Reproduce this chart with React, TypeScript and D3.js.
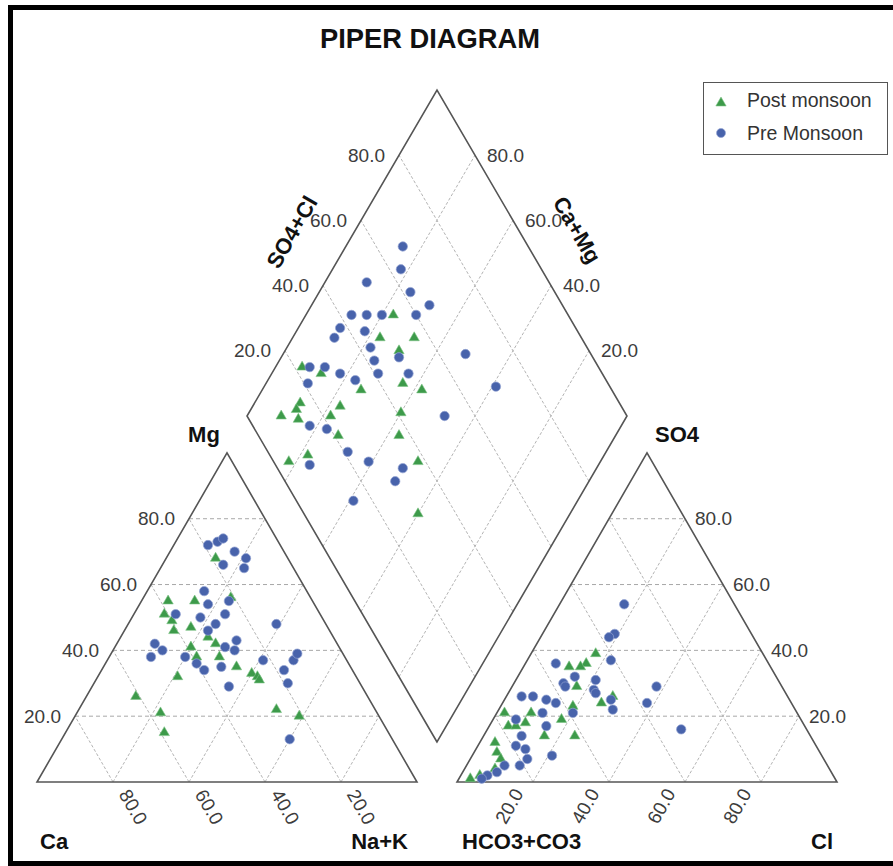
import React from "react";
import * as d3 from "d3";

// tick values shared by every axis
const tickValues = [20, 40, 60, 80];
const tickLabels = ["20.0", "40.0", "60.0", "80.0"];

// cation triangle: [Mg %, Na+K %]
const postCations = [
  [68, 13], [55, 7], [55, 14], [51, 8], [49, 11], [46, 13], [47, 17], [41, 20], [44, 23], [42, 26],
  [38, 29], [38, 23], [35, 35], [33, 40], [32, 42], [31, 43], [32, 21], [26, 13], [21, 22], [15, 26],
  [22, 52], [20, 59], [56, 23],
];
const preCations = [
  [72, 9], [73, 11], [74, 12], [70, 17], [68, 21], [65, 22], [66, 16], [58, 15], [54, 18], [55, 23],
  [51, 11], [50, 18], [48, 23], [51, 24], [46, 22], [42, 10], [40, 13], [38, 11], [38, 20], [36, 24],
  [34, 27], [35, 31], [29, 36], [41, 29], [40, 32], [43, 31], [48, 39], [37, 41], [34, 48], [30, 51],
  [37, 49], [39, 49], [13, 60],
];

// anion triangle: [SO4 %, Cl %]
const postAnions = [
  [39, 17], [36, 16], [35, 15], [35, 12], [29, 17], [24, 26], [26, 28], [19, 18], [23, 19], [14, 24],
  [21, 2], [17, 5], [21, 9], [18, 9], [12, 4], [9, 6], [7, 8], [4, 8], [1, 3], [2, 5], [17, 7], [14, 16],
];
const preAnions = [
  [54, 17], [45, 19], [44, 18], [37, 22], [36, 8], [32, 15], [30, 13], [29, 14], [31, 21], [28, 22],
  [27, 23], [25, 28], [22, 30], [29, 38], [24, 38], [16, 51], [26, 4], [26, 7], [25, 11], [24, 14],
  [21, 12], [21, 20], [19, 6], [17, 15], [14, 10], [11, 10], [10, 13], [7, 15], [5, 14], [5, 10],
  [8, 21], [2, 7], [1, 6], [3, 9],
];

// diamond: [SO4+Cl %, Ca+Mg %]
const postDiamond = [
  [54, 77], [47, 77], [56, 68], [50, 70], [46, 64], [34, 74], [50, 58], [22, 93], [26, 87], [16, 88],
  [14, 88], [13, 86], [9, 91], [22, 78], [26, 77], [21, 73], [41, 60], [37, 57], [38, 48], [4, 82],
  [10, 78], [30, 40],
];
const preDiamond = [
  [67, 85], [63, 82], [52, 89], [62, 76], [65, 69], [60, 71], [51, 80], [47, 84], [43, 88], [38, 89],
  [35, 89], [44, 82], [43, 78], [49, 69], [42, 75], [41, 72], [49, 64], [67, 52], [70, 39], [24, 91],
  [28, 87], [21, 89], [31, 82], [34, 77], [52, 48], [15, 82], [19, 77], [21, 68], [25, 61], [33, 51],
  [29, 51], [9, 76], [15, 59],
];

const W = 893;
const HGT = 866;
const SIDE = 380;
const TH = (SIDE * Math.sqrt(3)) / 2;
const BASE = 782;
const LEFT_X = 37;
const RIGHT_X = 457;
const D_BX = 437, D_BY = 742, D_HW = 190, D_HH = 326;

const FONT = "Arial, 'Liberation Sans', sans-serif";
const GREEN = "#3d9a4a";
const BLUE = "#4863ab";
const EDGE = "#555";
const GRID = "#b4b4b4";
const TICK_COLOR = "#3c3c3c";

const yTri = d3.scaleLinear().domain([0, 100]).range([BASE, BASE - TH]);
const xCat = d3.scaleLinear().domain([0, 100]).range([LEFT_X, LEFT_X + SIDE]);
const xAn = d3.scaleLinear().domain([0, 100]).range([RIGHT_X, RIGHT_X + SIDE]);
const xDia = d3.scaleLinear().domain([-100, 100]).range([D_BX - D_HW, D_BX + D_HW]);
const yDia = d3.scaleLinear().domain([0, 200]).range([D_BY, D_BY - 2 * D_HH]);

const cat = (mg: number, nak: number) => [xCat(nak + mg / 2), yTri(mg)];
const an = (so4: number, cl: number) => [xAn(cl + so4 / 2), yTri(so4)];
const dia = (a: number, b: number) => [xDia(a - b), yDia(a + b)];

const triPath = d3.symbol(d3.symbolTriangle, 46);

const line = (p: number[], q: number[], key: string, dash = "3,2", color = GRID) => (
  <line key={key} x1={p[0]} y1={p[1]} x2={q[0]} y2={q[1]} stroke={color} strokeWidth={1} strokeDasharray={dash} />
);

const poly = (pts: number[][]) => pts.map((p) => p.join(",")).join(" ");

function Markers({ post, pre, proj }: { post: number[][]; pre: number[][]; proj: (a: number, b: number) => number[] }) {
  return (
    <g>
      {post.map((d, i) => {
        const [x, y] = proj(d[0], d[1]);
        return <path key={"g" + i} d={triPath() as string} transform={`translate(${x},${y})`} fill={GREEN} stroke="#7cc285" strokeWidth={0.6} />;
      })}
      {pre.map((d, i) => {
        const [x, y] = proj(d[0], d[1]);
        return <circle key={"b" + i} cx={x} cy={y} r={4.7} fill={BLUE} stroke="#93a3d3" strokeWidth={0.7} />;
      })}
    </g>
  );
}

export default function App() {
  const tickText = { fontFamily: FONT, fontSize: 19, fill: TICK_COLOR } as const;
  const axisText = { fontFamily: FONT, fontSize: 22, fontWeight: "bold", fill: "#111" } as const;

  return (
    <div style={{ position: "absolute", left: 0, top: 0 }}>
      <svg width={W} height={HGT} style={{ display: "block", background: "#fff" }}>
        {/* frame */}
        <rect x={10.5} y={7.5} width={900} height={856} fill="none" stroke="#000" strokeWidth={5} />

        <text x={430} y={48} textAnchor="middle" textLength={220} lengthAdjust="spacingAndGlyphs"
          style={{ fontFamily: FONT, fontSize: 28, fontWeight: "bold", fill: "#111" }}>PIPER DIAGRAM</text>

        {/* cation triangle grid */}
        <g>
          {tickValues.map((v) => line(cat(v, 0), cat(v, 100 - v), "ch" + v, "4,3", "#a8a8a8"))}
          {tickValues.map((v) => line(cat(0, v), cat(100 - v, v), "cn" + v))}
          {tickValues.map((v) => line(cat(0, 100 - v), cat(100 - v, 0), "cc" + v))}
          <polygon points={poly([cat(0, 0), cat(0, 100), cat(100, 0)])} fill="none" stroke={EDGE} strokeWidth={1.6} />
        </g>

        {/* anion triangle grid */}
        <g>
          {tickValues.map((v) => line(an(v, 0), an(v, 100 - v), "ah" + v, "4,3", "#a8a8a8"))}
          {tickValues.map((v) => line(an(0, v), an(100 - v, v), "ac" + v))}
          {tickValues.map((v) => line(an(0, 100 - v), an(100 - v, 0), "ab" + v))}
          <polygon points={poly([an(0, 0), an(0, 100), an(100, 0)])} fill="none" stroke={EDGE} strokeWidth={1.6} />
        </g>

        {/* diamond grid */}
        <g>
          {tickValues.map((v) => line(dia(v, 0), dia(v, 100), "da" + v))}
          {tickValues.map((v) => line(dia(0, v), dia(100, v), "db" + v))}
          <polygon points={poly([dia(0, 0), dia(0, 100), dia(100, 100), dia(100, 0)])} fill="none" stroke={EDGE} strokeWidth={1.6} />
        </g>

        {/* tick labels */}
        <g style={tickText}>
          {tickValues.map((v, i) => {
            const [x, y] = cat(v, 0);
            return <text key={"tm" + v} x={x - 14} y={y} textAnchor="end" dominantBaseline="central">{tickLabels[i]}</text>;
          })}
          {tickValues.map((v, i) => {
            const [x, y] = cat(0, 100 - v);
            return <text key={"tca" + v} transform={`translate(${x + 11},${y + 9}) rotate(60)`} dominantBaseline="central">{tickLabels[i]}</text>;
          })}
          {tickValues.map((v, i) => {
            const [x, y] = an(v, 100 - v);
            return <text key={"ts" + v} x={x + 10} y={y} dominantBaseline="central">{tickLabels[i]}</text>;
          })}
          {tickValues.map((v, i) => {
            const [x, y] = an(0, v);
            return <text key={"tcl" + v} transform={`translate(${x - 14.5},${y + 8}) rotate(-60)`} textAnchor="end" dominantBaseline="central">{tickLabels[i]}</text>;
          })}
          {tickValues.map((v, i) => {
            const [x, y] = dia(v, 100);
            return <text key={"tsc" + v} x={x - 14} y={y} textAnchor="end" dominantBaseline="central">{tickLabels[i]}</text>;
          })}
          {tickValues.map((v, i) => {
            const [x, y] = dia(100, v);
            return <text key={"tcm" + v} x={x + 12} y={y} dominantBaseline="central">{tickLabels[i]}</text>;
          })}
        </g>

        {/* axis titles */}
        <g style={axisText}>
          <text x={204} y={442} textAnchor="middle">Mg</text>
          <text x={677} y={442} textAnchor="middle">SO4</text>
          <text x={40} y={849}>Ca</text>
          <text x={408} y={849} textAnchor="end">Na+K</text>
          <text x={462} y={849}>HCO3+CO3</text>
          <text x={833} y={849} textAnchor="end">Cl</text>
          <text transform="translate(292,232) rotate(-60)" textAnchor="middle" dominantBaseline="central">SO4+Cl</text>
          <text transform="translate(577,230) rotate(60)" textAnchor="middle" dominantBaseline="central">Ca+Mg</text>
        </g>

        <Markers post={postCations} pre={preCations} proj={cat} />
        <Markers post={postAnions} pre={preAnions} proj={an} />
        <Markers post={postDiamond} pre={preDiamond} proj={dia} />

        {/* legend */}
        <g>
          <rect x={703.5} y={82.5} width={184} height={72} fill="#fff" stroke="#555" strokeWidth={1} />
          <path d={triPath() as string} transform="translate(721,103)" fill={GREEN} stroke="#7cc285" strokeWidth={0.6} />
          <circle cx={721} cy={133} r={4.5} fill={BLUE} stroke="#93a3d3" strokeWidth={0.7} />
          <text x={747} y={107} style={{ fontFamily: FONT, fontSize: 19.5, fill: "#333" }}>Post monsoon</text>
          <text x={747} y={140} style={{ fontFamily: FONT, fontSize: 19.5, fill: "#333" }}>Pre Monsoon</text>
        </g>
      </svg>
    </div>
  );
}
